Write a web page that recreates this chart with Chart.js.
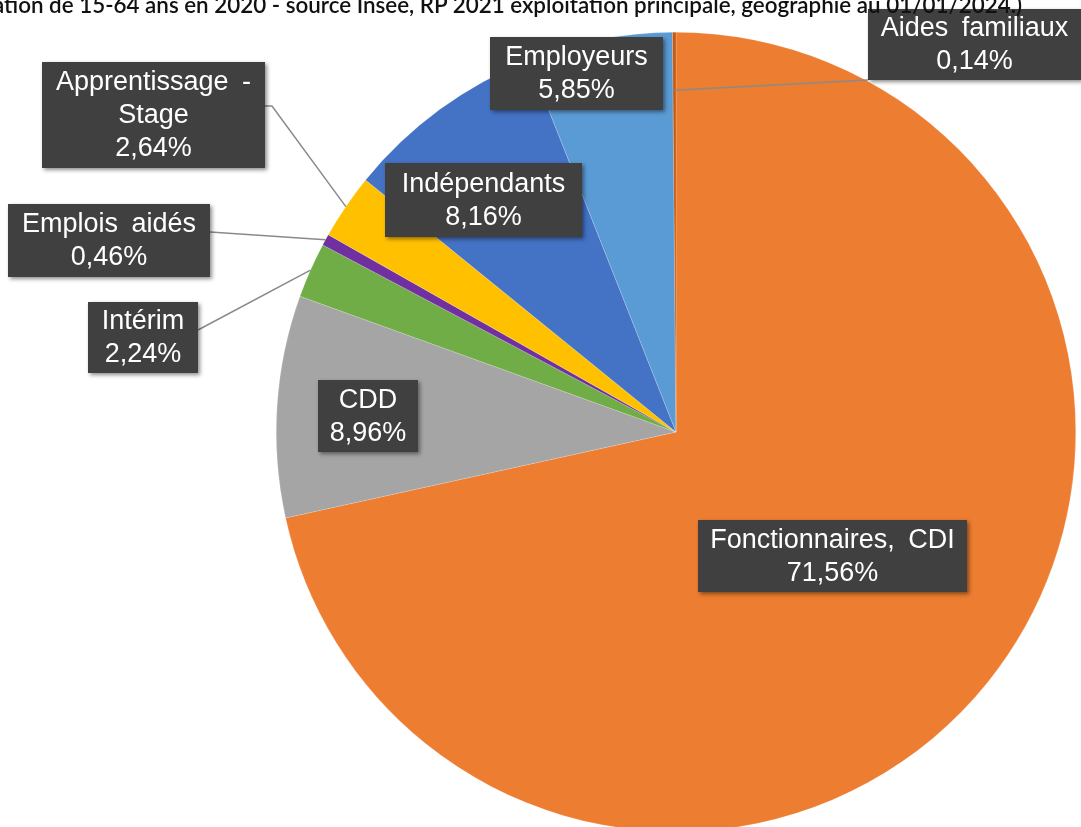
<!DOCTYPE html>
<html>
<head>
<meta charset="utf-8">
<script src="https://cdn.jsdelivr.net/npm/chart.js@4"></script>
<style>
  html, body { margin: 0; padding: 0; background: #fff; overflow: hidden; width: 1081px; height: 827px; }
  #title {
    position: absolute; top: -9px; right: 59px; white-space: nowrap;
    font-family: Lato, sans-serif; font-size: 22.4px; font-weight: 600; color: #111;
  }
  #wrap { position: absolute; left: 0; top: 0; width: 1081px; height: 870px; }
</style>
</head>
<body>
<div id="wrap"><canvas id="myChart" width="1081" height="870"></canvas></div>
<div id="title">(population de 15-64 ans en 2020 - source Insee, RP 2021 exploitation principale, géographie au 01/01/2024.)</div>
<script>
const categories = ['Fonctionnaires, CDI', 'CDD', 'Intérim', 'Emplois aidés', 'Apprentissage - Stage', 'Indépendants', 'Employeurs', 'Aides familiaux'];
const values = [71.56, 8.96, 2.24, 0.46, 2.64, 8.16, 5.85, 0.14];
const colors = ['#ED7D31', '#A5A5A5', '#70AD47', '#7030A0', '#FFC000', '#4472C4', '#5B9BD5', '#C55A11'];

// label boxes: x, y, w, h, and optional leader line (from point -> arc at fraction f)
const labelBoxes = [
    { x: 698, y: 520, w: 269, h: 72 },
    { x: 318, y: 380, w: 100, h: 72 },
    { x: 88, y: 302, w: 110, h: 71, line: { x: 198, y: 330, f: 1.0 } },
    { x: 8, y: 204, w: 202, h: 73, line: { x: 210, y: 232, f: 1.0 } },
    { x: 42, y: 62, w: 223, h: 106, line: { x: 265, y: 106, kink: 272, f: 1.0 } },
    { x: 385, y: 163, w: 197, h: 74 },
    { x: 490, y: 37, w: 173, h: 73 },
    { x: 868, y: 9, w: 213, h: 71, line: { x: 868, y: 80, f: 0.855 } }
];

function fmt(v) {
    return v.toFixed(2).replace('.', ',') + '%';
}

const boxLabels = {
    id: 'boxLabels',
    afterDatasetsDraw(chart) {
        const ctx = chart.ctx;
        const meta = chart.getDatasetMeta(0);
        ctx.save();
        ctx.font = '27px "Liberation Sans", Arial, sans-serif';
        ctx.wordSpacing = '6px';
        // leader lines first
        labelBoxes.forEach((b, i) => {
            if (!b.line) return;
            const arc = meta.data[i];
            const mid = (arc.startAngle + arc.endAngle) / 2;
            const ex = arc.x + Math.cos(mid) * arc.outerRadius * b.line.f;
            const ey = arc.y + Math.sin(mid) * arc.outerRadius * b.line.f;
            ctx.strokeStyle = '#8a8a8a';
            ctx.lineWidth = 1.5;
            ctx.beginPath();
            ctx.moveTo(b.line.x, b.line.y);
            if (b.line.kink) ctx.lineTo(b.line.kink, b.line.y);
            ctx.lineTo(ex, ey);
            ctx.stroke();
        });
        labelBoxes.forEach((b, i) => {
            ctx.save();
            ctx.shadowColor = 'rgba(0,0,0,0.45)';
            ctx.shadowBlur = 4;
            ctx.shadowOffsetX = 2;
            ctx.shadowOffsetY = 2;
            ctx.fillStyle = '#404040';
            ctx.fillRect(b.x, b.y, b.w, b.h);
            ctx.restore();
            // word wrap
            const words = categories[i].split(' ');
            const lines = [];
            let cur = '';
            words.forEach(w => {
                const t = cur ? cur + ' ' + w : w;
                if (ctx.measureText(t).width > b.w - 10 && cur) {
                    lines.push(cur);
                    cur = w;
                } else cur = t;
            });
            lines.push(cur);
            lines.push(fmt(values[i]));
            const lh = 33;
            const cy = b.y + b.h / 2 + 1;
            ctx.fillStyle = '#ffffff';
            ctx.textAlign = 'center';
            ctx.textBaseline = 'middle';
            lines.forEach((l, k) => {
                ctx.fillText(l, b.x + b.w / 2, cy + (k - (lines.length - 1) / 2) * lh);
            });
        });
        ctx.restore();
    }
};

const ctx = document.getElementById('myChart').getContext('2d');
const myChart = new Chart(ctx, {
    type: 'pie',
    data: {
        labels: categories,
        datasets: [{
            data: values,
            backgroundColor: colors,
            borderColor: 'rgba(255,255,255,0.35)',
            borderWidth: 0.5
        }]
    },
    options: {
        responsive: false,
        animation: false,
        layout: { padding: { left: 276, right: 5, top: 32, bottom: 38 } },
        plugins: {
            legend: { display: false },
            tooltip: { enabled: false }
        }
    },
    plugins: [boxLabels]
});
</script>
</body>
</html>
